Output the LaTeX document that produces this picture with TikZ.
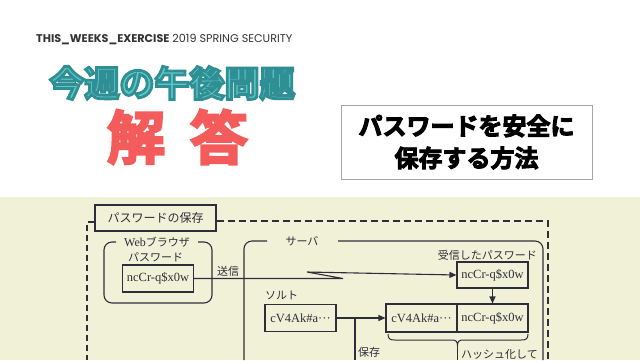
\documentclass[tikz,border=0pt]{standalone}
\usepackage{fontspec}
\setmainfont{Liberation Serif}
\newfontfamily\jp{Noto Sans CJK JP}
\newfontfamily\jpout{Noto Sans CJK JP Bold}[FakeBold=8]
\newfontfamily\jpheavy{Noto Sans CJK JP Bold}[FakeBold=4]
\newfontfamily\headfont{Poppins}
\usetikzlibrary{arrows.meta}
\definecolor{cream}{HTML}{F1F1D8}
\definecolor{ink}{HTML}{2E2E3A}
\definecolor{tealfill}{HTML}{5CC8C8}
\definecolor{tealedge}{HTML}{2F8F94}
\definecolor{coral}{HTML}{F45B5B}
\definecolor{headgray}{HTML}{333333}
\tikzset{
  cell/.style={draw=ink, line width=1.1pt, minimum width=71pt, minimum height=27pt, inner sep=0pt, font=\fontsize{12.5}{14}\selectfont, text=ink},
  jplabel/.style={font=\jp\fontsize{11}{13}\selectfont, text=ink, inner sep=1pt},
  frame/.style={draw=ink, line width=1.1pt},
  arr/.style={draw=ink, line width=1.1pt, -{Triangle[length=7pt,width=6pt]}},
  teal/.style={font=\jpout\fontsize{35}{40}\selectfont, inner sep=0pt, text=tealfill},
  red/.style={font=\jpheavy\fontsize{58}{60}\selectfont, text=coral, inner sep=0pt}
}
\begin{document}
\begin{tikzpicture}[x=1pt,y=-1pt]
\useasboundingbox (0,0) rectangle (640,360);
\fill[white] (0,0) rectangle (640,360);
\fill[cream] (0,197) rectangle (640,360);
\clip (0,0) rectangle (640,360);

% header
\node[anchor=west, inner sep=0pt, text=headgray, font=\headfont\fontsize{11.2}{13}\selectfont] (hdr) at (36,40)
  {\textbf{THIS\_WEEKS\_EXERCISE} 2019 SPRING SECURITY};

% teal title, outlined via stroke colour
\node[teal] (ttl) at (172,83) {\special{pdf:literal direct 0.184 0.561 0.580 RG}今週の午後問題};

% red answer
\node[red] (kai) at (136,137) {解};
\node[red] (tou) at (219,137) {答};

% right box
\node[draw=gray!70, line width=0.8pt, minimum width=251pt, minimum height=74pt, align=center,
      font=\jpheavy\fontsize{24}{32}\selectfont, text=black] (topic) at (466.5,142)
  {パスワードを安全に\\保存する方法};

% outer dashed frame
\node[frame, fill=cream, minimum width=121pt, minimum height=26pt, inner sep=0pt,
      font=\jp\fontsize{12}{14}\selectfont, text=ink] (store) at (155.5,218) {パスワードの保存};
\draw[ink, line width=1.1pt, dash pattern=on 6pt off 4pt] (store.west |- 0,222) -- (87,222) -- (87,360);
\draw[ink, line width=1.1pt, dash pattern=on 7pt off 4pt] (store.east |- 0,221) -- (548,221) -- (548,360);

% web browser box
\draw[frame, rounded corners=8pt] (116,242) -- (104,242) -- (104,303) -- (212,303) -- (212,242) -- (198,242);
\node[jplabel] (web) at (157,242) {{\rmfamily\fontsize{12}{14}\selectfont Web}ブラウザ};
\node[jplabel, anchor=west] (pwl) at (127,257) {パスワード};
\node[cell] (pw) at (158,278.5) {ncCr-q\$x0w};

% server box
\draw[frame, rounded corners=8pt] (267,241) -- (244,241) -- (244,360);
\draw[frame, rounded corners=8pt] (338,241) -- (543,241) -- (543,360);
\node[jplabel] (srv) at (302,241) {サーバ};

% received password
\node[jplabel, anchor=east] (rvl) at (538,255) {受信したパスワード};
\node[cell, minimum height=26pt] (rv) at (492.5,275) {ncCr-q\$x0w};

% combined
\node[cell, minimum height=28pt] (cl) at (421.5,318) {cV4Ak\#a···};
\node[cell, minimum height=28pt] (cr) at (492.5,318) {ncCr-q\$x0w};

% salt
\node[jplabel, anchor=west] (sl) at (264,295) {ソルト};
\node[cell] (sb) at (300.5,318) {cV4Ak\#a···};

% send connector
\coordinate (z1) at (343,280);
\coordinate (z2) at (307,272);
\draw[arr] (pw.east) -- (pw.east -| z1) -- (z2) -- (rv.west);
\node[jplabel] (send) at (228,271) {送信};

% arrows
\draw[arr] (rv.south) -- (cr.north);
\draw[arr] (sb.east) -- (cl.west);
\coordinate (sv) at (355,318);
\draw[frame] (sv) -- (355,360);
\node[jplabel, anchor=west] (save) at (357,352) {保存};

% brace
\coordinate (bt) at (457.5,346);
\draw[frame, line width=1pt] (388,334) .. controls (388,339) and (390,340) .. (395,340) -- (451,340)
  .. controls (456,340) and (457.5,341) .. (bt) .. controls (457.5,341) and (459,340) .. (464,340)
  -- (521,340) .. controls (526,340) and (528,339) .. (528,334);
\draw[frame, line width=1pt] (bt) -- (457.5,360);
\node[jplabel, anchor=west] (hash) at (460,354) {ハッシュ化して};
\end{tikzpicture}
\end{document}
